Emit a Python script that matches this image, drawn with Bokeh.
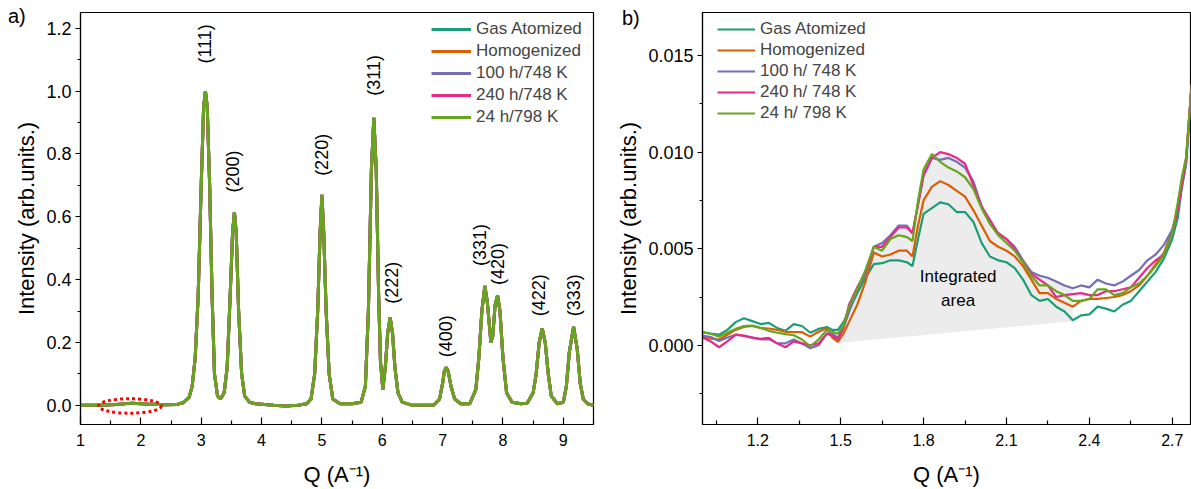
from bokeh.plotting import figure
from bokeh.models import (Legend, LegendItem, FixedTicker, PrintfTickFormatter,
                          Range1d, ColumnDataSource, GridBox, Div)
from bokeh.core.properties import value
from bokeh.embed import file_html
from bokeh.resources import INLINE

FONT = "Liberation Sans"

# ---------------- data: panel a ----------------
names_a = ["Gas Atomized", "Homogenized", "100 h/748 K", "240 h/748 K", "24 h/798 K"]
names_b = ["Gas Atomized", "Homogenized", "100 h/ 748 K", "240 h/ 748 K", "24 h/ 798 K"]
colors = ["#1b9e77", "#d95f02", "#7570b3", "#e7298a", "#66a61e"]

q_a = [1.0, 1.3, 1.6, 1.85, 2.1, 2.4, 2.6, 2.7, 2.8, 2.85, 2.9, 2.95, 3.0, 3.04, 3.07,
       3.1, 3.14, 3.18, 3.22, 3.27, 3.32, 3.38, 3.43, 3.48, 3.52, 3.55, 3.58, 3.62,
       3.67, 3.72, 3.8, 3.9, 4.2, 4.4, 4.6, 4.75, 4.82, 4.88, 4.93, 4.97, 5.0, 5.03,
       5.07, 5.12, 5.18, 5.3, 5.5, 5.65, 5.72, 5.77, 5.82, 5.86, 5.9, 5.94, 5.97,
       6.01, 6.05, 6.09, 6.13, 6.17, 6.21, 6.26, 6.33, 6.5, 6.85, 6.95, 7.0, 7.03,
       7.06, 7.09, 7.14, 7.2, 7.3, 7.45, 7.55, 7.6, 7.65, 7.7, 7.74, 7.8, 7.83, 7.87,
       7.91, 7.95, 8.0, 8.06, 8.15, 8.3, 8.4, 8.5, 8.55, 8.6, 8.65, 8.7, 8.75, 8.8,
       8.9, 9.0, 9.05, 9.1, 9.17, 9.23, 9.28, 9.33, 9.4, 9.5]
i_a = [0.0, 0.0, 0.003, 0.007, 0.004, 0.002, 0.003, 0.008, 0.025, 0.06, 0.15, 0.35,
       0.7, 0.95, 1.0, 0.95, 0.7, 0.35, 0.1, 0.03, 0.02, 0.04, 0.12, 0.35, 0.55, 0.615,
       0.55, 0.3, 0.1, 0.03, 0.01, 0.005, 0.0, -0.002, 0.0, 0.005, 0.02, 0.1, 0.3,
       0.55, 0.67, 0.55, 0.3, 0.1, 0.02, 0.005, 0.005, 0.01, 0.06, 0.3, 0.75, 0.915,
       0.75, 0.35, 0.14, 0.05, 0.12, 0.23, 0.28, 0.23, 0.12, 0.04, 0.01, 0.0, 0.0,
       0.02, 0.07, 0.11, 0.12, 0.11, 0.06, 0.02, 0.005, 0.005, 0.05, 0.15, 0.3, 0.38,
       0.33, 0.2, 0.22, 0.32, 0.35, 0.3, 0.15, 0.04, 0.01, 0.005, 0.007, 0.04, 0.1,
       0.2, 0.245, 0.2, 0.1, 0.03, 0.005, 0.01, 0.06, 0.17, 0.25, 0.18, 0.07, 0.02,
       0.005, 0.0]

hkl_text = ["(111)", "(200)", "(220)", "(311)", "(222)", "(400)", "(331)", "(420)", "(422)", "(333)"]
hkl_q = [3.07, 3.53, 5.0, 5.86, 6.16, 7.06, 7.62, 7.92, 8.59, 9.18]
hkl_i = [1.15, 0.744, 0.797, 1.05, 0.39, 0.22, 0.51, 0.45, 0.35, 0.35]

ring_q = [1.82]
ring_i = [-0.002]

panel_tags = ["a)", "b)"]

xticks_a = [1, 2, 3, 4, 5, 6, 7, 8, 9]
xminor_a = [1.5, 2.5, 3.5, 4.5, 5.5, 6.5, 7.5, 8.5, 9.5]
yticks_a = [0.0, 0.2, 0.4, 0.6, 0.8, 1.0, 1.2]
yminor_a = [0.1, 0.3, 0.5, 0.7, 0.9, 1.1]

# ---------------- data: panel b ----------------
q_b = [1.00, 1.03, 1.06, 1.09, 1.12, 1.15, 1.18, 1.21, 1.24, 1.27, 1.30, 1.33, 1.36,
       1.39, 1.42, 1.45, 1.47, 1.49, 1.51, 1.53, 1.56, 1.59, 1.62, 1.65, 1.68, 1.71,
       1.74, 1.76, 1.78, 1.80, 1.83, 1.86, 1.89, 1.92, 1.95, 1.98, 2.01, 2.04, 2.07,
       2.10, 2.13, 2.16, 2.19, 2.22, 2.25, 2.28, 2.31, 2.34, 2.37, 2.40, 2.43, 2.46,
       2.49, 2.52, 2.55, 2.58, 2.61, 2.64, 2.67, 2.70, 2.72, 2.735, 2.75, 2.77]
gas_atomized = [0.00068, 0.0006, 0.00055, 0.0008, 0.0012, 0.0014, 0.00125, 0.0011, 0.00116,
                0.0009, 0.00075, 0.0011, 0.001, 0.00065, 0.00085, 0.00095, 0.0008, 0.0008,
                0.0012, 0.0018, 0.0027, 0.0035, 0.0042, 0.00425, 0.0044, 0.0044, 0.0043,
                0.0041, 0.0055, 0.0068, 0.0071, 0.0074, 0.0073, 0.0069, 0.0069, 0.0064,
                0.0053, 0.0046, 0.0044, 0.0043, 0.0040, 0.0034, 0.0026, 0.0023, 0.0024,
                0.0020, 0.00175, 0.0013, 0.00155, 0.0016, 0.0020, 0.0019, 0.00175, 0.0021,
                0.0023, 0.0028, 0.0033, 0.0038, 0.0045, 0.0055, 0.0066, 0.0082, 0.0094, 0.0132]
homogenized = [0.00043, 0.00035, 0.0003, 0.00055, 0.0008, 0.00095, 0.001, 0.0009, 0.00087,
               0.0008, 0.0007, 0.00068, 0.00068, 0.00045, 0.0007, 0.00088, 0.0004, 0.00018,
               0.0006, 0.0012, 0.0021, 0.0033, 0.0048, 0.0046, 0.0047, 0.0049, 0.0049,
               0.0046, 0.0062, 0.0075, 0.0082, 0.0085, 0.0083, 0.0080, 0.0077, 0.0070,
               0.0062, 0.0054, 0.0051, 0.0049, 0.0046, 0.0041, 0.0034, 0.0027, 0.0027,
               0.0024, 0.0022, 0.0020, 0.0023, 0.0024, 0.0024, 0.00245, 0.0025, 0.0026,
               0.0028, 0.0031, 0.0036, 0.0042, 0.0048, 0.0059, 0.0072, 0.0086, 0.0097, 0.0135]
h100_748 = [0.0005, 0.00043, 0.00022, 0.0004, 0.00055, 0.00048, 0.0004, 0.0003, 0.00032,
            0.0001, 0.0001, 0.0003, 0.0001, -0.00015, 0.0, 0.0006, 0.0006, 0.0004,
            0.0009, 0.0017, 0.0029, 0.0037, 0.0051, 0.0053, 0.0057, 0.0062, 0.0062,
            0.0058, 0.0073, 0.0088, 0.0097, 0.0096, 0.0097, 0.0095, 0.0092, 0.0085,
            0.0072, 0.0063, 0.0058, 0.0055, 0.0051, 0.0044, 0.0038, 0.0036, 0.0035,
            0.0033, 0.0031, 0.00295, 0.0031, 0.0030, 0.0034, 0.0032, 0.0031, 0.0033,
            0.0036, 0.0039, 0.0044, 0.0047, 0.0052, 0.0060, 0.0070, 0.0082, 0.0094, 0.0135]
h240_748 = [0.0004, 0.0002, -0.0001, 0.0002, 0.00055, 0.0005, 0.0004, 0.00034, 0.00038,
            0.0001, -0.0001, 0.0002, 0.0001, 0.0, 0.0001, 0.0006, 0.0005, 0.0003,
            0.0009, 0.0021, 0.0030, 0.0038, 0.0051, 0.0051, 0.0056, 0.0061, 0.0061,
            0.0058, 0.0073, 0.0088, 0.0097, 0.0100, 0.0099, 0.0097, 0.0094, 0.0083,
            0.0072, 0.0065, 0.0058, 0.0055, 0.0050, 0.0043, 0.0037, 0.0034, 0.0031,
            0.0025, 0.0026, 0.00265, 0.0027, 0.0026, 0.0026, 0.0028, 0.0028, 0.0029,
            0.0030, 0.0035, 0.0040, 0.0044, 0.0047, 0.0058, 0.0070, 0.0083, 0.0096, 0.0135]
h24_798 = [0.00068, 0.0006, 0.00045, 0.00065, 0.00085, 0.001, 0.00102, 0.0009, 0.00075,
           0.00065, 0.00058, 0.00052, 0.0003, -0.00005, 0.0003, 0.0008, 0.0007, 0.0006,
           0.001, 0.002, 0.0029, 0.0039, 0.0051, 0.0049, 0.0055, 0.0057, 0.0056,
           0.0054, 0.0075, 0.0091, 0.0099, 0.0095, 0.0092, 0.0090, 0.0087, 0.0081,
           0.0071, 0.0063, 0.0057, 0.0053, 0.0049, 0.0043, 0.0036, 0.0031, 0.0031,
           0.0028, 0.0026, 0.0023, 0.0023, 0.0024, 0.0029, 0.0029, 0.0026, 0.0027,
           0.0030, 0.0032, 0.0036, 0.0041, 0.0047, 0.0058, 0.0074, 0.0087, 0.0097, 0.0135]
series_b = [gas_atomized, homogenized, h100_748, h240_748, h24_798]

area_base_q = [1.49, 2.34]
area_base_i = [0.00012, 0.00125]
area_text = ["Integrated\narea"]
area_text_q = [1.925]
area_text_i = [0.00294]

xticks_b = [1.2, 1.5, 1.8, 2.1, 2.4, 2.7]
xminor_b = [1.05, 1.35, 1.65, 1.95, 2.25, 2.55]
yticks_b = [0.0, 0.005, 0.010, 0.015]
yminor_b = [-0.0025, 0.0025, 0.0075, 0.0125]


def style(p, xt, xm, yt, ym, xfmt, yfmt):
    p.xgrid.visible = False
    p.ygrid.visible = False
    p.outline_line_color = "black"
    p.outline_line_width = 1.2
    p.background_fill_color = "white"
    p.border_fill_color = "white"
    p.xaxis.ticker = FixedTicker(ticks=xt, minor_ticks=xm)
    p.yaxis.ticker = FixedTicker(ticks=yt, minor_ticks=ym)
    p.xaxis.formatter = PrintfTickFormatter(format=xfmt)
    p.yaxis.formatter = PrintfTickFormatter(format=yfmt)
    for ax in (p.xaxis[0], p.yaxis[0]):
        ax.axis_line_color = "black"
        ax.axis_line_width = 1.2
        ax.major_tick_line_color = "black"
        ax.minor_tick_line_color = "black"
        ax.major_tick_line_width = 1.2
        ax.minor_tick_line_width = 1.2
        ax.major_label_text_font = FONT
        ax.major_label_text_color = "black"
        ax.axis_label_text_font = FONT
        ax.axis_label_text_font_size = "22px"
        ax.axis_label_text_font_style = "normal"
        ax.axis_label_text_color = "black"
    xa = p.xaxis[0]
    xa.major_label_text_font_size = "16px"
    xa.major_tick_in = 7
    xa.major_tick_out = 0
    xa.minor_tick_in = 4
    xa.minor_tick_out = 0
    xa.major_label_standoff = 9
    xa.axis_label_standoff = 13
    ya = p.yaxis[0]
    ya.major_label_text_font_size = "18px"
    ya.major_tick_in = 0
    ya.major_tick_out = 5
    ya.minor_tick_in = 0
    ya.minor_tick_out = 3
    ya.major_label_standoff = 4
    ya.axis_label_standoff = 4


# ---------------- panel a ----------------
pa = figure(width=600, height=489, output_backend="svg", toolbar_location=None,
            x_range=Range1d(1.0, 9.5), y_range=Range1d(-0.061, 1.25),
            min_border_left=80, min_border_right=7, min_border_top=7, min_border_bottom=61)
pa.xaxis.axis_label = "Q (A\u207b\u00b9)"
pa.yaxis.axis_label = "Intensity (arb.units.)"
style(pa, xticks_a, xminor_a, yticks_a, yminor_a, "%d", "%.1f")

src_a = ColumnDataSource(dict(q=q_a, i=i_a))
items_a = []
for name, col in zip(names_a, colors):
    r = pa.line("q", "i", source=src_a, line_color=col, line_width=3)
    items_a.append(LegendItem(label=name, renderers=[r]))

pa.ellipse(x=ring_q, y=ring_i, width=1.04, height=0.046, fill_color=None,
           line_color="#ff0000", line_width=3, line_dash="3 3")

pa.text(x=hkl_q, y=hkl_i, text=hkl_text, angle=1.5708, text_align="center",
        text_baseline="middle", text_font=value(FONT), text_font_size="18px",
        text_color="black")

leg_a = Legend(items=items_a, location=(351, 297), padding=0, margin=0, spacing=2,
               glyph_width=40, glyph_height=20, label_height=20, label_standoff=5,
               label_text_font=FONT, label_text_font_size="17px",
               border_line_color=None, background_fill_alpha=0)
pa.add_layout(leg_a)

# ---------------- panel b ----------------
pb = figure(width=591, height=489, output_backend="svg", toolbar_location=None,
            x_range=Range1d(1.0, 2.766), y_range=Range1d(-0.0041, 0.01723),
            min_border_left=102, min_border_right=1, min_border_top=12, min_border_bottom=61)
pb.xaxis.axis_label = "Q (A\u207b\u00b9)"
pb.yaxis.axis_label = "Intensity (arb.units.)"
style(pb, xticks_b, xminor_b, yticks_b, yminor_b, "%.1f", "%.3f")

sel = [k for k, q in enumerate(q_b) if area_base_q[0] <= q <= area_base_q[1]]
top = [max(s[k] for s in series_b) for k in sel]
patch_x = [area_base_q[0]] + [q_b[k] for k in sel] + [area_base_q[1]]
patch_y = [area_base_i[0]] + top + [area_base_i[1]]
pb.patch(patch_x, patch_y, fill_color="#ececec", line_color=None)

items_b = []
for name, col, s in zip(names_b, colors, series_b):
    r = pb.line(q_b, s, line_color=col, line_width=2.2)
    items_b.append(LegendItem(label=name, renderers=[r]))

pb.text(x=area_text_q, y=area_text_i, text=area_text, text_align="center",
        text_baseline="middle", text_font=value(FONT), text_font_size="17px",
        text_color="black", text_line_height=1.25)

leg_b = Legend(items=items_b, location=(15, 301), padding=0, margin=0, spacing=1,
               glyph_width=38, glyph_height=20, label_height=20, label_standoff=5,
               label_text_font=FONT, label_text_font_size="17px",
               border_line_color=None, background_fill_alpha=0)
pb.add_layout(leg_b)

# panel tags placed over the figures' top-left corners
tag_style = {"font-family": FONT, "font-size": "20px", "color": "black",
             "line-height": "20px"}
div_a = Div(text=panel_tags[0], width=30, height=24, margin=(6, 0, 0, 8), styles=tag_style)
div_b = Div(text=panel_tags[1], width=30, height=24, margin=(8, 0, 0, 22), styles=tag_style)

layout = GridBox(children=[(pa, 0, 0), (pb, 0, 1), (div_a, 0, 0), (div_b, 0, 1)],
                 spacing=0)
open("out.html", "w").write(file_html(layout, INLINE))
